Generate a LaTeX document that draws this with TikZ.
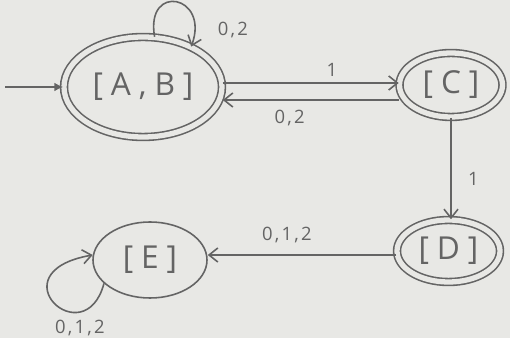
\documentclass[tikz,border=0pt]{standalone}
\usepackage{fontspec}
\newfontfamily\hand[LetterSpace=25]{Open Sans}
\newfontfamily\handlabel[LetterSpace=12]{Open Sans}
\usetikzlibrary{arrows.meta,shapes.geometric}
\definecolor{paper}{RGB}{232,232,229}
\definecolor{pencil}{RGB}{100,100,100}

\begin{document}
\begin{tikzpicture}[
    node font=\hand,
    >={Straight Barb[length=5pt,width=8pt]},
    dfa state/.style={ellipse, draw=pencil, line width=0.9pt, text=pencil, font=\fontsize{18}{20}\selectfont, inner sep=0pt},
    final state/.style={dfa state, double=paper, double distance=3pt},
    edge/.style={->, line width=0.9pt, draw=pencil},
    edge label/.style={text=pencil, font=\handlabel\fontsize{10.5}{12}\selectfont},
]

% === Paper ===
\fill[paper] (0,0) rectangle (10.2,6.76);
\useasboundingbox (0,0) rectangle (10.2,6.76);

% === States ===
\node[final state, minimum width=3.16cm, minimum height=2.0cm] (AB) at (2.86,5.02) {[A,B]};
\node[final state, minimum width=2.06cm, minimum height=1.28cm] (C) at (9.02,5.06) {[C]};
\node[final state, minimum width=2.06cm, minimum height=1.24cm] (D) at (8.97,1.74) {[D]};
\node[dfa state, minimum width=2.28cm, minimum height=1.52cm] (E) at (3.0,1.56) {[E]};

% Start arrow
\coordinate (start) at (0.1,5.02);
\draw[edge, -{Latex[length=5pt,width=5pt]}] (start) -- (AB.west);

% === Transitions ===
\draw[edge] ([yshift=0.08cm]AB.east) -- ([yshift=0.08cm]AB.east -| C.west)
    node[pos=0.62, above, edge label] {1};
\draw[edge] ([yshift=-0.3cm]C.west) -- ([yshift=-0.3cm]C.west -| AB.east)
    node[pos=0.62, below=2pt, edge label] {0,2};
\draw[edge] (C.south) -- (C.south |- D.north)
    node[pos=0.6, right=6pt, edge label] {1};
\draw[edge] ([yshift=-0.08cm]D.west) -- ([yshift=-0.08cm]D.west -| E.east)
    node[pos=0.58, above=3pt, edge label] {0,1,2};

% Self loops
\draw[edge] (AB.77) .. controls +(100:1.1) and +(70:1.1) .. (AB.40);
\node[edge label] (abloop) at (4.66,6.16) {0,2};
\draw[edge] (E.207) .. controls +(255:1.5) and +(190:2.0) .. (E.175);
\node[edge label] (eloop) at (1.6,0.2) {0,1,2};

\end{tikzpicture}
\end{document}
